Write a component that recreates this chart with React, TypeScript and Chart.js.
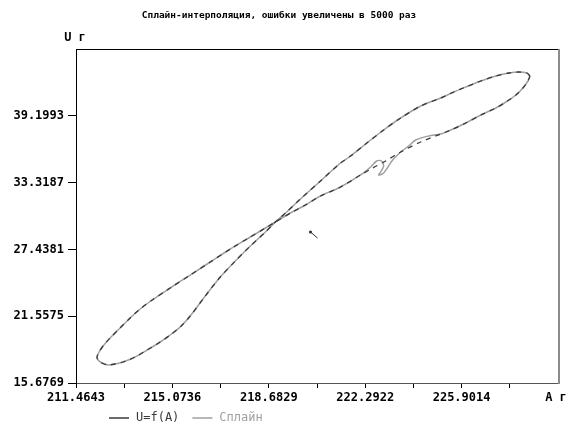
import React, { useEffect, useRef } from 'react';
import { Chart, registerables } from 'chart.js';

Chart.register(...registerables);

const chartTitle = 'Сплайн-интерполяция, ошибки увеличены в 5000 раз';
const xAxisLabel = 'A г';
const yAxisLabel = 'U г';
const seriesNames = ['U=f(A)', 'Сплайн'];

const xTickValues = [211.4643, 213.26895, 215.0736, 216.87825, 218.6829, 220.48755, 222.2922, 224.0968, 225.9014, 227.70605, 229.5107];
const xTickLabels = ['211.4643', '', '215.0736', '', '218.6829', '', '222.2922', '', '225.9014', '', ''];
const yTickValues = [15.6769, 21.5575, 27.4381, 33.3187, 39.1993, 45.0799];
const yTickLabels = ['15.6769', '21.5575', '27.4381', '33.3187', '39.1993', ''];

const measuredA = [
  228.460, 228.347, 228.047, 227.672, 227.184, 226.622, 226.059, 225.609, 225.121, 224.371, 223.620, 222.982, 222.307, 221.744, 221.369, 220.619, 219.868, 219.306, 218.930,
  218.555, 217.992, 217.430, 216.867, 216.304, 215.741, 215.366, 214.991, 214.616, 214.128, 213.678, 213.228, 212.928, 212.665, 212.440, 212.290, 212.252, 212.327, 212.477, 212.740, 213.115, 213.490, 213.866, 214.316, 214.991, 215.741, 216.492, 217.242, 217.992, 218.555, 218.930,
  219.493, 220.056, 220.619, 221.369, 222.119, 222.570, 223.057, 223.620, 224.371, 225.496, 226.059, 226.622, 227.184, 227.560, 227.935, 228.197, 228.385, 228.460,
];
const measuredU = [
  42.703, 42.967, 43.055, 42.967, 42.703, 42.263, 41.735, 41.295, 40.766, 40.062, 39.006, 37.949, 36.717, 35.660, 35.044, 33.460, 31.875, 30.643, 29.850,
  28.970, 27.737, 26.417, 25.008, 23.336, 21.575, 20.607, 19.902, 19.286, 18.582, 17.966, 17.526, 17.350, 17.262, 17.438, 17.702, 17.966, 18.406, 18.934, 19.638, 20.519, 21.399, 22.191, 22.984, 24.040, 25.184, 26.329, 27.473, 28.530, 29.322, 29.850,
  30.643, 31.347, 32.139, 32.931, 33.988, 34.604, 35.220, 36.013, 36.893, 37.949, 38.566, 39.270, 39.886, 40.414, 41.030, 41.647, 42.263, 42.703,
];

const splineA = [
  228.460, 228.347, 228.047, 227.672, 227.184, 226.622, 226.059, 225.609, 225.121, 224.371, 223.620, 222.982, 222.307, 221.744, 221.369, 220.619, 219.868, 219.306, 218.930,
  218.555, 217.992, 217.430, 216.867, 216.304, 215.741, 215.366, 214.991, 214.616, 214.128, 213.678, 213.228, 212.928, 212.665, 212.440, 212.290, 212.252, 212.327, 212.477, 212.740, 213.115, 213.490, 213.866, 214.316, 214.991, 215.741, 216.492, 217.242, 217.992, 218.555, 218.930,
  219.493, 220.056, 220.619, 221.369, 222.119, 222.495, 222.720, 222.907, 222.982, 222.870, 222.795, 222.982, 223.320, 223.620, 223.920, 224.183, 224.671, 225.121, 225.496, 226.059, 226.622, 227.184, 227.560, 227.935, 228.197, 228.385, 228.460,
];
const splineU = [
  42.703, 42.967, 43.055, 42.967, 42.703, 42.263, 41.735, 41.295, 40.766, 40.062, 39.006, 37.949, 36.717, 35.660, 35.044, 33.460, 31.875, 30.643, 29.850,
  28.970, 27.737, 26.417, 25.008, 23.336, 21.575, 20.607, 19.902, 19.286, 18.582, 17.966, 17.526, 17.350, 17.262, 17.438, 17.702, 17.966, 18.406, 18.934, 19.638, 20.519, 21.399, 22.191, 22.984, 24.040, 25.184, 26.329, 27.473, 28.530, 29.322, 29.850,
  30.643, 31.347, 32.139, 32.931, 33.988, 34.692, 35.220, 35.220, 34.780, 34.252, 33.988, 34.164, 35.308, 36.013, 36.541, 37.069, 37.421, 37.597, 37.949, 38.566, 39.270, 39.886, 40.414, 41.030, 41.647, 42.263, 42.703,
];

const cursorA = [220.2435, 220.5061];
const cursorU = [28.970, 28.442];

const MONO = '"DejaVu Sans Mono", "Liberation Mono", monospace';

const decorPlugin = {
  id: 'decor',
  afterDraw(chart: any) {
    const { ctx, chartArea: a } = chart;
    ctx.save();
    ctx.strokeStyle = '#000';
    ctx.lineWidth = 1;
    ctx.beginPath();
    ctx.moveTo(a.left, a.top + 0.5);
    ctx.lineTo(a.right, a.top + 0.5);
    ctx.stroke();
    ctx.strokeStyle = '#8c8c8c';
    ctx.lineWidth = 2;
    ctx.beginPath();
    ctx.moveTo(a.right + 1, a.top);
    ctx.lineTo(a.right + 1, a.bottom + 1);
    ctx.stroke();

    ctx.font = 'bold 12px ' + MONO;
    ctx.fillStyle = '#000';
    ctx.textAlign = 'center';
    ctx.textBaseline = 'middle';
    ctx.fillText(yAxisLabel, a.left - 1, a.top - 11);
    ctx.fillText(xAxisLabel, a.right - 2, a.bottom + 15);

    // legend
    let x = 109;
    const y = 418;
    ctx.textAlign = 'left';
    ctx.font = '12px ' + MONO;
    chart.data.datasets.forEach((ds: any) => {
      if (!seriesNames.includes(ds.label)) return;
      ctx.strokeStyle = ds.borderColor;
      ctx.lineWidth = 1.5;
      ctx.setLineDash([]);
      ctx.beginPath();
      ctx.moveTo(x, y);
      ctx.lineTo(x + 20, y);
      ctx.stroke();
      ctx.fillStyle = ds.borderColor;
      ctx.fillText(ds.label, x + 27, y);
      x += 27 + ctx.measureText(ds.label).width + 13;
    });
    ctx.restore();
  },
};

export default function App() {
  const ref = useRef<HTMLCanvasElement | null>(null);
  useEffect(() => {
    document.body.style.margin = '0';
    const canvas = ref.current;
    if (!canvas) return;
    const toPts = (xs: number[], ys: number[]) => xs.map((v, i) => ({ x: v, y: ys[i] }));
    const chart = new Chart(canvas, {
      type: 'scatter',
      data: {
        datasets: [
          {
            label: seriesNames[0],
            data: toPts(measuredA, measuredU),
            showLine: true,
            borderColor: '#3a3a3a',
            borderWidth: 1.3,
            borderDash: [5, 5],
            pointRadius: 0,
            tension: 0.3,
          } as any,
          {
            label: seriesNames[1],
            data: toPts(splineA, splineU),
            showLine: true,
            borderColor: '#a0a0a0',
            borderWidth: 1.5,
            pointRadius: 0,
            tension: 0.3,
          },
          {
            label: 'cursor',
            data: toPts(cursorA, cursorU),
            showLine: true,
            borderColor: '#333',
            borderWidth: 1,
            pointRadius: [1.6, 0],
            pointBackgroundColor: '#333',
            pointBorderWidth: 0,
          },
        ],
      },
      options: {
        animation: false,
        responsive: false,
        devicePixelRatio: 1,
        layout: { padding: { left: 0, right: 11, top: 0, bottom: 0 } },
        plugins: {
          legend: { display: false },
          tooltip: { enabled: false },
          title: {
            display: true,
            text: chartTitle,
            color: '#000',
            font: { family: MONO, size: 9.5, weight: 'bold', lineHeight: '12px' },
            padding: { top: 10, bottom: 27 },
          },
        },
        scales: {
          x: {
            type: 'linear',
            min: xTickValues[0],
            max: xTickValues[xTickValues.length - 1],
            afterBuildTicks: (s: any) => {
              s.ticks = xTickValues.map((v) => ({ value: v }));
            },
            afterFit: (s: any) => {
              s.height = 42;
            },
            ticks: {
              autoSkip: false,
              maxRotation: 0,
              minRotation: 0,
              padding: 3,
              color: '#000',
              font: { family: MONO, size: 12, weight: 'bold' },
              callback: (_v: any, i: number) => xTickLabels[i],
            },
            grid: {
              drawOnChartArea: false,
              drawTicks: true,
              tickLength: 5,
              color: (c: any) => (c.index === xTickValues.length - 1 ? 'rgba(0,0,0,0)' : '#000'),
            },
            border: { display: true, color: '#555', width: 1 },
          },
          y: {
            type: 'linear',
            min: yTickValues[0],
            max: yTickValues[yTickValues.length - 1],
            afterBuildTicks: (s: any) => {
              s.ticks = yTickValues.map((v) => ({ value: v }));
            },
            afterFit: (s: any) => {
              s.width = 76;
            },
            ticks: {
              autoSkip: false,
              padding: 4,
              color: '#000',
              font: { family: MONO, size: 12, weight: 'bold' },
              callback: (_v: any, i: number) => yTickLabels[i],
            },
            grid: {
              drawOnChartArea: false,
              drawTicks: true,
              tickLength: 8,
              color: (c: any) => (c.index === yTickValues.length - 1 ? 'rgba(0,0,0,0)' : '#000'),
            },
            border: { display: true, color: '#000', width: 1 },
          },
        },
      } as any,
      plugins: [decorPlugin],
    });
    return () => chart.destroy();
  }, []);
  return (
    <div style={{ width: 569, height: 425 }}>
      <canvas ref={ref} width={569} height={425} style={{ display: 'block' }} />
    </div>
  );
}
